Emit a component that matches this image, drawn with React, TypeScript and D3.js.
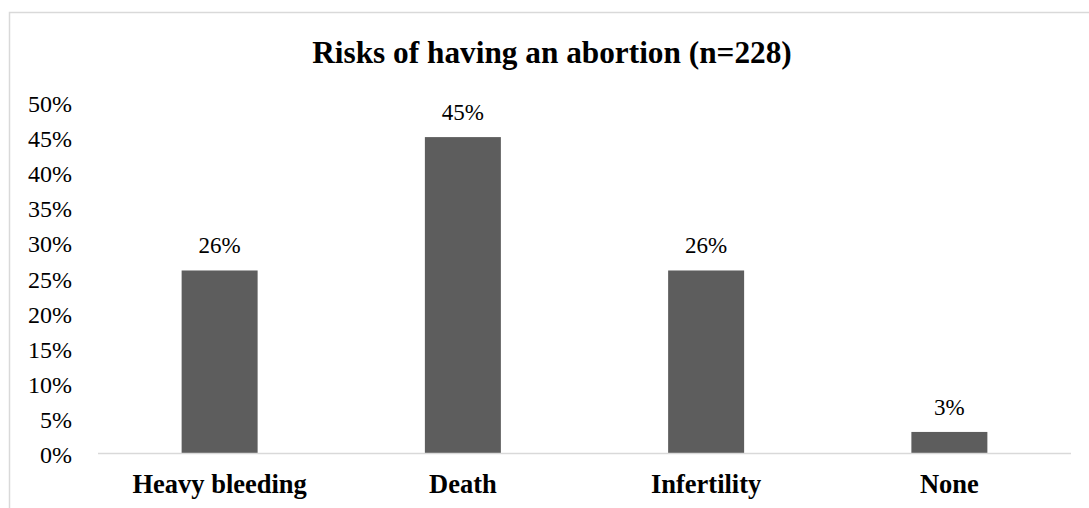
import React from "react";
import * as d3 from "d3";

const categories = ["Heavy bleeding", "Death", "Infertility", "None"];
const percentages = [26, 45, 26, 3];
const yTicks = [0, 5, 10, 15, 20, 25, 30, 35, 40, 45, 50];
const title = "Risks of having an abortion (n=228)";

const W = 1089;
const H = 508;
const serif = { fontFamily: "'Liberation Serif', 'Times New Roman', Times, serif" };

export default function App() {
  const left = 98;
  const right = 1071;
  const bottom = 453;
  const top = 102;

  const x = d3
    .scaleBand<string>()
    .domain(categories)
    .range([left, right])
    .paddingInner(0.6876)
    .paddingOuter(0.3438);
  const y = d3.scaleLinear().domain([0, 50]).range([bottom, top]);

  return (
    <svg
      width={W}
      height={H}
      style={{ position: "absolute", left: 0, top: 0, background: "#fff", ...serif }}
    >
      {/* chart frame, running past the right and bottom edges */}
      <rect x={9.5} y={12.5} width={W + 20} height={H + 20} fill="#fff" stroke="#d9d9d9" strokeWidth={1.5} />
      <text x={552} y={63} textAnchor="middle" fontSize={31.3} fontWeight="bold" fill="#000" style={serif}>
        {title}
      </text>

      {yTicks.map((t) => (
        <text key={t} x={72} y={y(t) + 10} textAnchor="end" fontSize={24} fontWeight="normal" fill="#000" style={serif}>
          {t}%
        </text>
      ))}

      {categories.map((c, i) => {
        const v = percentages[i];
        const bx = x(c)!;
        return (
          <g key={c}>
            <rect x={bx} y={y(v)} width={x.bandwidth()} height={bottom - y(v)} fill="#5d5d5d" />
            <text
              x={bx + x.bandwidth() / 2}
              y={y(v) - 17}
              textAnchor="middle"
              fontSize={23}
              fontWeight="normal"
              fill="#000"
              style={serif}
            >
              {v}%
            </text>
            <text
              x={bx + x.bandwidth() / 2}
              y={493}
              textAnchor="middle"
              fontSize={26.5}
              fontWeight="bold"
              fill="#000"
              style={serif}
            >
              {c}
            </text>
          </g>
        );
      })}

      <line x1={left} x2={right} y1={bottom + 0.5} y2={bottom + 0.5} stroke="#d9d9d9" strokeWidth={1.5} />
    </svg>
  );
}
